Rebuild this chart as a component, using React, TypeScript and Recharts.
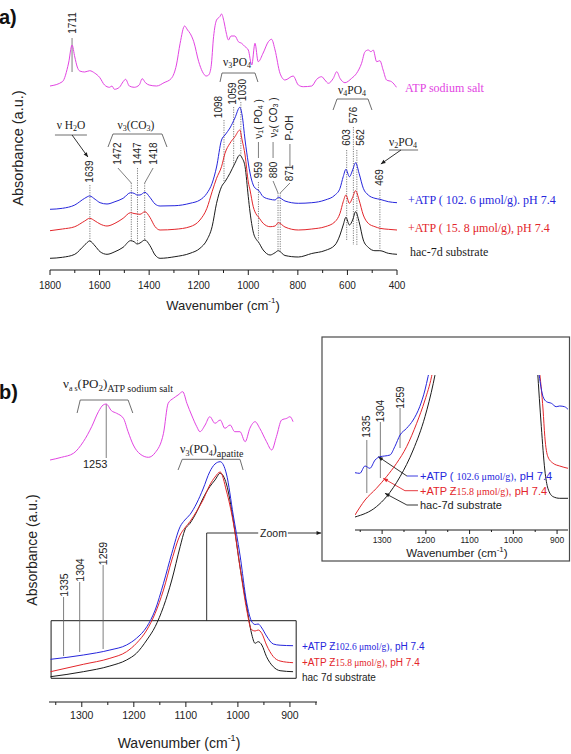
import React from "react";
import {
  LineChart,
  Line,
  XAxis,
  YAxis,
  ReferenceLine,
  ReferenceDot,
  ReferenceArea,
} from "recharts";

const SANS = "'Liberation Sans', Arial, Helvetica, sans-serif";
const SERIF = "'Liberation Serif', 'Times New Roman', Times, serif";

const BLUE = "#2626dc";
const RED = "#e3262b";
const BLACK = "#1c1c1c";
const MAGENTA = "#e244e2";
const GUIDE = "#5e5e5e";
const INK = "#222";

// (a) 1800-400 cm-1: substrate and both ATP loadings on one wavenumber grid
const wnA = [1800, 1750, 1700, 1660, 1640, 1618, 1598, 1570, 1538, 1505, 1475, 1461, 1448, 1437, 1417, 1397, 1376, 1356, 1296, 1235, 1195, 1167, 1146, 1128, 1108, 1094, 1074, 1054, 1034, 1025, 1013, 1000, 993, 980, 966, 960, 940, 912, 892, 879, 852, 798, 744, 690, 650, 630, 617, 606, 592, 579, 567, 553, 536, 516, 489, 469, 435, 400];
const blueA = [60.7, 61.7, 65, 71.7, 74, 70.7, 67.3, 66, 68.3, 71.7, 77.3, 76.7, 75, 75, 77.7, 72.7, 66, 64, 64.3, 66.7, 70, 76.7, 86.7, 103, 130, 135, 142, 152, 162.7, 155, 130, 107, 97, 85, 80.7, 80, 73.3, 70.7, 70, 72.7, 69, 66.7, 67.3, 70, 75, 81.7, 93.3, 100.7, 93.3, 100, 107.3, 96.7, 81.7, 75, 71.7, 70.7, 68.3, 67.3];
const redA = [39.3, 41, 43.3, 49, 51.7, 49, 46, 44, 46.7, 51.7, 57.3, 56.5, 56, 55.7, 58.3, 52.7, 43.3, 40, 40.7, 43.3, 50, 61.7, 78.3, 91.7, 103.3, 116.7, 126.7, 133.3, 140, 130, 115, 88, 80, 63.3, 55, 53.3, 46.7, 43.3, 44, 47.3, 43, 40, 41, 43.3, 48.3, 56.7, 68.3, 75, 66.7, 72.7, 79.3, 70, 55, 46.7, 43.3, 41.7, 40.7, 40];
const blackA = [11.7, 12.7, 15.7, 25, 29, 24, 18.3, 15.7, 18.3, 22.7, 29.3, 28.3, 26, 27, 30, 24.5, 15, 11.7, 13.3, 16.7, 21.7, 30, 43.3, 66.7, 83.3, 88.3, 96.7, 106.7, 115, 112, 103.3, 73.3, 58, 38, 30, 28.3, 20, 15, 17.3, 19.3, 14.5, 13, 16.5, 19.5, 25, 35, 45, 52.7, 45, 50, 58.3, 48.3, 30, 22.7, 19.3, 19.3, 16.7, 15.7];

// ATP sodium salt reference spectrum drawn above the others in (a)
const wnAtpA = [1800, 1750, 1725, 1711, 1700, 1690, 1680, 1660, 1640, 1620, 1600, 1580, 1560, 1550, 1540, 1520, 1505, 1495, 1480, 1460, 1440, 1428, 1415, 1400, 1370, 1340, 1310, 1290, 1275, 1257, 1245, 1235, 1220, 1200, 1185, 1170, 1160, 1150, 1140, 1128, 1115, 1108, 1098, 1090, 1080, 1070, 1054, 1040, 1027, 1013, 1000, 986, 973, 960, 940, 919, 906, 892, 872, 852, 819, 798, 778, 744, 724, 704, 691, 677, 657, 643, 630, 610, 583, 563, 543, 529, 516, 505, 496, 482, 469, 456, 442, 422, 402];
const atpA = [184, 188.3, 207, 225, 213, 203, 199, 198, 199.3, 197, 192.7, 185, 182.7, 184, 180.7, 182.7, 188.3, 190.7, 184, 182.7, 185, 191.3, 187.3, 185, 184, 187.3, 191.7, 205, 226.7, 244, 240, 236.7, 228.3, 208.3, 198.3, 194, 195, 203.3, 233.3, 250, 253.3, 256, 248.3, 238.3, 230, 234, 234, 228.3, 226.7, 223.3, 220, 205, 226.7, 208.3, 217, 228.3, 230.7, 220, 196.7, 190, 194, 185, 183.3, 184, 190.7, 193.3, 190, 186.7, 191.7, 198.3, 191.7, 187.3, 191.7, 196.7, 206.7, 218.3, 220, 218.3, 220, 208.3, 209.3, 200, 190, 188.3, 182.7];

const ticksA = [1800, 1600, 1400, 1200, 1000, 800, 600, 400];
const minorA = [1700, 1500, 1300, 1100, 900, 700, 500];

// (b) phosphate stretching region
const wnB = [1360, 1297, 1246, 1214, 1195, 1175, 1159, 1143, 1127, 1111, 1102, 1092, 1079, 1067, 1054, 1044, 1034, 1022, 1009, 996, 983, 974, 967, 961, 954, 945, 932, 919, 894];
const blueB = [42.7, 47, 52, 57, 63.7, 75.3, 92, 118.7, 148.7, 175.3, 182, 187.5, 199, 213, 230.3, 238, 240.3, 228, 187, 147, 99, 81, 77.5, 78, 74, 66, 58, 56.8, 56.3];
const redB = [30.3, 37.7, 43.7, 50.3, 58.7, 72, 88.7, 112, 142, 167, 174, 180.5, 191, 202, 217, 225, 230, 211, 180, 135, 92, 72.4, 71, 72, 68.5, 57, 45.4, 41, 39.3];
const blackB = [25.3, 30.3, 36, 42, 48.7, 62, 75.3, 95.3, 122, 155.3, 172, 178.7, 190.3, 203.7, 215.3, 222, 228.7, 218, 182, 135.3, 95.3, 69, 58.7, 60.3, 57, 45.3, 35.3, 31.3, 30.3];

const wnAtpB = [1361, 1339, 1316, 1297, 1281, 1268, 1259, 1253, 1243, 1233, 1220, 1211, 1201, 1188, 1172, 1159, 1143, 1134, 1124, 1115, 1106, 1098, 1089, 1079, 1073, 1063, 1054, 1044, 1034, 1025, 1015, 1006, 996, 986, 977, 967, 958, 945, 935, 926, 916, 906, 900, 894];
const atpB = [242, 244.7, 248.7, 260.3, 275.3, 290.3, 297, 298, 291.3, 288.7, 283.7, 270.3, 257, 248, 244.7, 249.3, 268.7, 298.7, 303.7, 307, 310.3, 298.7, 287, 275.3, 270.3, 277, 285.3, 278.7, 282, 273.7, 277, 270.3, 270.3, 260.3, 273.7, 280.3, 273.7, 260.3, 252, 265.3, 282, 283.7, 285.3, 280.3];

const ticksB = [1300, 1200, 1100, 1000, 900];
const minorB = [1350, 1250, 1150, 1050, 950, 850];

// inset: baseline of (b) re-plotted; null splits the part that runs off the frame
const inBlueWn = [1362, 1351, 1339, 1328, 1316, 1305, 1294, 1282, 1271, 1259, 1244, 1229, 1214, 1202, 1195, 1189, 1060, 944, 941, 932, 924, 913, 902, 894, 883, 875];
const inBlue = [57.3, 56.7, 64, 61.7, 70, 73.3, 74, 75, 83.3, 95, 101.7, 110, 123.3, 140, 153.3, 165, null, 165, 155, 133.3, 128.3, 126.7, 123.3, 124, 123.3, 120.7];
const inRedWn = [1362, 1339, 1313, 1290, 1267, 1244, 1221, 1202, 1187, 1183, 1060, 941, 932, 928, 921, 909, 894, 875];
const inRed = [15, 30, 41.7, 53.3, 66.7, 83.3, 106.7, 130, 153.3, 162, null, 162, 120, 93.3, 73.3, 66.7, 64, 61.7];
const inBlackWn = [1362, 1313, 1290, 1259, 1229, 1202, 1183, 1176, 1060, 945, 936, 928, 921, 909, 894, 875];
const inBlack = [13, 23.3, 33.3, 53.3, 80, 113.3, 146.7, 162, null, 162, 103.3, 60, 41.7, 33.3, 31.7, 31.7];

const ticksIn = [1300, 1200, 1100, 1000, 900];
const minorIn = [1350, 1250, 1150, 1050, 950];

const rows = (xs: number[], cols: Record<string, (number | null)[]>) =>
  xs.map((x, i) => {
    const r: any = { x };
    for (const k in cols) r[k] = cols[k][i];
    return r;
  });

const dataA = rows(wnA, { blue: blueA, red: redA, black: blackA });
const atpDataA = rows(wnAtpA, { v: atpA });
const dataB = rows(wnB, { blue: blueB, red: redB, black: blackB });
const atpDataB = rows(wnAtpB, { v: atpB });
const inBlueData = rows(inBlueWn, { v: inBlue });
const inRedData = rows(inRedWn, { v: inRed });
const inBlackData = rows(inBlackWn, { v: inBlack });

// label placement for the assigned bands (chart units: wavenumber / absorbance)
type Peak = { wn: number; ty: number; top: number; bottom: number; tx?: number; kink?: number; dx?: number; solid?: boolean };

const peakLayoutA: Peak[] = [
  { wn: 1711, ty: 247, top: 232, bottom: 198, solid: true },
  { wn: 1639, ty: 98.5, top: 85, bottom: 29 },
  { wn: 1472, tx: 1526, ty: 116.5, top: 102, kink: 87, bottom: 29 },
  { wn: 1447, ty: 116.5, top: 102, bottom: 26 },
  { wn: 1418, tx: 1384, ty: 116.5, top: 102, kink: 87, bottom: 30 },
  { wn: 1098, ty: 163, dx: -5, top: 150, bottom: 88 },
  { wn: 1059, ty: 176.5, dx: -1.5, top: 163, bottom: 105 },
  { wn: 1030, ty: 180, dx: 2, top: 168, bottom: 115 },
  { wn: 959, ty: 100, top: 88, bottom: 30 },
  { wn: 880, tx: 900, ty: 100, top: 89, kink: 77, bottom: 19 },
  { wn: 871, tx: 832, ty: 97, top: 87, kink: 77, bottom: 19 },
  { wn: 603, ty: 132.5, top: 120, bottom: 30 },
  { wn: 576, ty: 155, top: 143, bottom: 25 },
  { wn: 562, ty: 132.5, dx: 4, top: 120, bottom: 25 },
  { wn: 469, ty: 92.5, top: 80, bottom: 20 },
];

const peakLayoutB: Peak[] = [
  { wn: 1335, ty: 117, top: 105, bottom: 46, solid: true },
  { wn: 1304, ty: 132, top: 120, bottom: 50, solid: true },
  { wn: 1259, ty: 148.5, top: 137, bottom: 53, solid: true },
];

const peakLayoutIn: Peak[] = [
  { wn: 1335, ty: 103.5, top: 90, bottom: 37, solid: true },
  { wn: 1304, ty: 119, top: 108, bottom: 52, solid: true },
  { wn: 1259, ty: 132.5, top: 122, bottom: 82, solid: true },
];

const vText = (content: React.ReactNode, size: number, dx = 0) => (s: any) => {
  const x = s.cx + dx;
  return (
    <text
      x={x}
      y={s.cy}
      transform={`rotate(-90 ${x} ${s.cy})`}
      textAnchor="middle"
      dominantBaseline="central"
      fontFamily={SANS}
      fontSize={size}
      fill={INK}
      style={{ whiteSpace: "pre" }}
    >
      {content}
    </text>
  );
};

function peakMarks(list: Peak[], size: number, id: string) {
  const out: React.ReactElement[] = [];
  list.forEach((p, i) => {
    const tx = p.tx ?? p.wn;
    out.push(
      <ReferenceDot key={`${id}t${i}`} x={tx} y={p.ty} r={0} ifOverflow="visible" shape={vText(String(p.wn), size, p.dx)} />
    );
    let from = p.top;
    if (p.kink !== undefined) {
      out.push(
        <ReferenceLine key={`${id}k${i}`} segment={[{ x: tx, y: p.top }, { x: p.wn, y: p.kink }]} stroke={GUIDE} strokeWidth={0.8} ifOverflow="visible" />
      );
      from = p.kink;
    }
    out.push(
      <ReferenceLine
        key={`${id}l${i}`}
        segment={[{ x: p.wn, y: from }, { x: p.wn, y: p.bottom }]}
        stroke={GUIDE}
        strokeWidth={0.8}
        strokeDasharray={p.solid ? undefined : "1.2 1.2"}
        ifOverflow="visible"
      />
    );
  });
  return out;
}

function polyline(pts: [number, number][], color: string, id: string, width = 0.9) {
  return pts.slice(1).map((pt, i) => (
    <ReferenceLine
      key={`${id}${i}`}
      segment={[{ x: pts[i][0], y: pts[i][1] }, { x: pt[0], y: pt[1] }]}
      stroke={color}
      strokeWidth={width}
      ifOverflow="visible"
    />
  ));
}

const arrowShape = (color: string, head = 5) => (p: any) => {
  const { x1, y1, x2, y2 } = p;
  const a = Math.atan2(y2 - y1, x2 - x1);
  const wing = (s: number) => `${x2 - head * Math.cos(a + s)},${y2 - head * Math.sin(a + s)}`;
  return (
    <g>
      <line x1={x1} y1={y1} x2={x2} y2={y2} stroke={color} strokeWidth={0.9} />
      <polygon points={`${x2},${y2} ${wing(0.4)} ${wing(-0.4)}`} fill={color} />
    </g>
  );
};

function arrow(from: [number, number], to: [number, number], color: string, key: string) {
  return (
    <ReferenceLine
      key={key}
      segment={[{ x: from[0], y: from[1] }, { x: to[0], y: to[1] }]}
      ifOverflow="visible"
      shape={arrowShape(color)}
    />
  );
}

const axisTick = (major: number[], labelDy: number, fontSize: number, majorLen = 5, minorLen = 3) => (props: any) => {
  const { x, y, payload } = props;
  const isMajor = major.includes(payload.value);
  return (
    <g>
      <line x1={x} x2={x} y1={y} y2={y + (isMajor ? majorLen : minorLen)} stroke={BLACK} strokeWidth={1} />
      {isMajor && (
        <text x={x} y={y + labelDy} textAnchor="middle" dominantBaseline="central" fontFamily={SANS} fontSize={fontSize} fill={INK}>
          {payload.value}
        </text>
      )}
    </g>
  );
};

function waveAxis(domain: [number, number], major: number[], minor: number[], labelDy: number, fontSize: number, tickLen?: [number, number]) {
  const all = [...major, ...minor].sort((a, b) => b - a);
  return (
    <XAxis
      type="number"
      dataKey="x"
      domain={domain}
      reversed
      allowDataOverflow
      ticks={all}
      interval={0}
      tickLine={false}
      tickSize={0}
      tickMargin={0}
      height={30}
      axisLine={{ stroke: BLACK, strokeWidth: 1 }}
      tick={axisTick(major, labelDy, fontSize, tickLen?.[0], tickLen?.[1])}
    />
  );
}

const lineProps = { type: "monotone" as const, dot: false, strokeWidth: 1, isAnimationActive: false, activeDot: false };

function PanelA() {
  return (
    <LineChart width={571} height={320} data={dataA} margin={{ top: 10, right: 174, bottom: 20, left: 50 }}>
      {waveAxis([400, 1800], ticksA, minorA, 15, 10)}
      <YAxis hide type="number" domain={[0, 260]} allowDataOverflow />
      {peakMarks(peakLayoutA, 10, "pa")}
      {/* band groups written as rotated labels with a short dash */}
      <ReferenceDot x={959} y={151} r={0} ifOverflow="visible" shape={vText(<>ν<tspan dy={2} fontSize={7}>1</tspan><tspan dy={-2}>( PO</tspan><tspan dy={2} fontSize={7}>4</tspan><tspan dy={-2}> )</tspan></>, 10)} />
      <ReferenceDot x={900} y={152.5} r={0} ifOverflow="visible" shape={vText(<>ν<tspan dy={2} fontSize={7}>2</tspan><tspan dy={-2}>( CO</tspan><tspan dy={2} fontSize={7}>3</tspan><tspan dy={-2}> )</tspan></>, 10)} />
      <ReferenceDot x={832} y={142} r={0} ifOverflow="visible" shape={vText("P-OH", 10)} />
      {polyline([[959, 128], [959, 112]], GUIDE, "d1", 0.8)}
      {polyline([[900, 128], [900, 112]], GUIDE, "d2", 0.8)}
      {polyline([[832, 126], [832, 104]], GUIDE, "d3", 0.8)}
      {/* brackets */}
      {polyline([[1566, 123], [1546, 136], [1348, 136], [1328, 123]], GUIDE, "bco3")}
      {polyline([[1114, 188], [1106, 197], [973, 197], [961, 188]], GUIDE, "bpo3")}
      {polyline([[658, 160], [642, 171], [517, 171], [501, 160]], GUIDE, "bpo4")}
      {polyline([[1780, 135], [1651, 135]], GUIDE, "bh2o")}
      {polyline([[432, 120], [315, 120]], GUIDE, "bpo2")}
      {arrow([1711, 135], [1647, 113], BLACK, "ah2o")}
      {arrow([384, 120], [465, 106], BLACK, "apo2")}
      <Line data={atpDataA} dataKey="v" stroke={MAGENTA} {...lineProps} />
      <Line dataKey="black" stroke={BLACK} {...lineProps} />
      <Line dataKey="red" stroke={RED} {...lineProps} />
      <Line dataKey="blue" stroke={BLUE} {...lineProps} />
    </LineChart>
  );
}

function PanelB() {
  return (
    <LineChart width={571} height={384} data={dataB} margin={{ top: 10, right: 254, bottom: 22, left: 49 }}>
      {waveAxis([848, 1363], ticksB, minorB, 13, 10.5)}
      <YAxis hide type="number" domain={[0, 322]} allowDataOverflow />
      {peakMarks(peakLayoutB, 10.5, "pb")}
      <ReferenceLine segment={[{ x: 1253, y: 298 }, { x: 1253, y: 244 }]} stroke={GUIDE} strokeWidth={0.8} ifOverflow="visible" />
      <ReferenceDot
        x={1253}
        y={238}
        r={0}
        ifOverflow="visible"
        shape={(s: any) => (
          <text x={s.cx - 11} y={s.cy} textAnchor="middle" dominantBaseline="central" fontFamily={SANS} fontSize={11} fill={INK}>
            1253
          </text>
        )}
      />
      {polyline([[1309, 289], [1303, 302], [1211, 302], [1202, 289]], GUIDE, "bas")}
      {polyline([[1115, 232], [1107, 242.7], [996, 242.7], [990, 232]], GUIDE, "bap")}
      <ReferenceArea x1={1359} x2={888} y1={23.7} y2={81.3} fill="none" stroke={BLACK} strokeWidth={1} ifOverflow="visible" />
      {polyline([[1060, 81.3], [1060, 169], [961, 169]], BLACK, "zc")}
      {arrow([904, 169], [840, 169], BLACK, "zarr")}
      <Line data={atpDataB} dataKey="v" stroke={MAGENTA} {...lineProps} />
      <Line dataKey="black" stroke={BLACK} {...lineProps} />
      <Line dataKey="red" stroke={RED} {...lineProps} />
      <Line dataKey="blue" stroke={BLUE} {...lineProps} />
    </LineChart>
  );
}

function Inset() {
  return (
    <LineChart width={248} height={224} margin={{ top: 38, right: 2, bottom: 1, left: 33 }}>
      {waveAxis([875, 1362], ticksIn, minorIn, 10, 8.5, [4, 2])}
      <YAxis hide type="number" domain={[0, 155]} allowDataOverflow />
      {peakMarks(peakLayoutIn, 10, "pi")}
      {polyline([[1243.3, 54], [1218, 54]], BLUE, "lb")}
      {polyline([[1247.8, 39.3], [1218, 39.3]], RED, "lr")}
      {polyline([[1243.3, 25], [1218, 25]], BLACK, "lk")}
      {arrow([1243.3, 54], [1308.8, 73.3], BLACK, "ab")}
      {arrow([1247.8, 39.3], [1297.4, 51.7], RED, "ar")}
      {arrow([1243.3, 25], [1293.5, 36.7], BLACK, "ak")}
      <Line data={inBlackData} dataKey="v" stroke={BLACK} connectNulls={false} {...lineProps} />
      <Line data={inRedData} dataKey="v" stroke={RED} connectNulls={false} {...lineProps} />
      <Line data={inBlueData} dataKey="v" stroke={BLUE} connectNulls={false} {...lineProps} />
    </LineChart>
  );
}

const subS = { fontSize: 8 };

function Overlay() {
  return (
    <svg width={571} height={754} style={{ position: "absolute", left: 0, top: 0, pointerEvents: "none" }}>
      {/* (a) */}
      <text x={-1} y={24} fontFamily={SANS} fontWeight="bold" fontSize={20} fill="#111">a)</text>
      <text transform="translate(18,148) rotate(-90)" textAnchor="middle" dominantBaseline="central" fontFamily={SANS} fontSize={14.5} fill={INK}>
        Absorbance (a.u.)
      </text>
      <text x={223} y={305} textAnchor="middle" dominantBaseline="central" fontFamily={SANS} fontSize={13} fill={INK}>
        Wavenumber (cm<tspan dy={-5} fontSize={8}>-1</tspan><tspan dy={5}>)</tspan>
      </text>
      <g fontFamily={SERIF} fontSize={11.5} fill={INK} textAnchor="middle" dominantBaseline="central">
        <text x={71} y={125}>ν H<tspan dy={3} {...subS}>2</tspan><tspan dy={-3}>O</tspan></text>
        <text x={136} y={125}>ν<tspan dy={3} {...subS}>3</tspan><tspan dy={-3}>(CO</tspan><tspan dy={3} {...subS}>3</tspan><tspan dy={-3}>)</tspan></text>
        <text x={237} y={62}>ν<tspan dy={3} {...subS}>3</tspan><tspan dy={-3}>PO</tspan><tspan dy={3} {...subS}>4</tspan></text>
        <text x={352} y={90}>ν<tspan dy={3} {...subS}>4</tspan><tspan dy={-3}>PO</tspan><tspan dy={3} {...subS}>4</tspan></text>
        <text x={403} y={142}>ν<tspan dy={3} {...subS}>2</tspan><tspan dy={-3}>PO</tspan><tspan dy={3} {...subS}>4</tspan></text>
      </g>
      <g fontFamily={SERIF} fontSize={12} dominantBaseline="central" style={{ whiteSpace: "pre" }}>
        <text x={405} y={88} fill={MAGENTA}>ATP sodium salt</text>
        <text x={408} y={200} fill={BLUE}>+ATP ( 102. 6 μmol/g). pH 7.4</text>
        <text x={408} y={228.3} fill={RED}>+ATP  ( 15. 8 μmol/g), pH 7.4</text>
        <text x={410} y={251.7} fill={BLACK}>hac-7d substrate</text>
      </g>

      {/* (b) */}
      <text x={-1} y={399} fontFamily={SANS} fontWeight="bold" fontSize={20} fill="#111">b)</text>
      <text transform="translate(32,550) rotate(-90)" textAnchor="middle" dominantBaseline="central" fontFamily={SANS} fontSize={14} fill={INK}>
        Absorbance (a.u.)
      </text>
      <text x={179} y={743} textAnchor="middle" dominantBaseline="central" fontFamily={SANS} fontSize={14} fill={INK}>
        Wavenumber (cm<tspan dy={-5} fontSize={9}>-1</tspan><tspan dy={5}>)</tspan>
      </text>
      <text x={63} y={388} fontFamily={SERIF} fontSize={13} fill={INK} style={{ whiteSpace: "pre" }}>
        ν<tspan dy={3} fontSize={8}>a s</tspan><tspan dy={-3}>(PO</tspan><tspan dy={3} fontSize={9}>2</tspan><tspan dy={-3}>)</tspan><tspan dy={4} fontSize={10}>ATP sodium salt</tspan>
      </text>
      <text x={180} y={453} fontFamily={SERIF} fontSize={12} fill={INK}>
        ν<tspan dy={3} fontSize={8}>3</tspan><tspan dy={-3}>(PO</tspan><tspan dy={3} fontSize={8}>4</tspan><tspan dy={-3}>)</tspan><tspan dy={4} fontSize={10}>apatite</tspan>
      </text>
      <text x={273.5} y={533} textAnchor="middle" dominantBaseline="central" fontFamily={SANS} fontSize={10.5} fill={INK}>Zoom</text>
      <g fontFamily={SANS} fontSize={10} dominantBaseline="central" style={{ whiteSpace: "pre" }}>
        <text x={302} y={646.7} fill={BLUE}>+ATP Ƶ<tspan fontFamily={SERIF} fontSize={9.5}>102.6 μmol/g)</tspan>, pH 7.4</text>
        <text x={302} y={662.7} fill={RED}>+ATP Ƶ<tspan fontFamily={SERIF} fontSize={9.5}>15.8 μmol/g)</tspan>, pH 7.4</text>
        <text x={302} y={677} fill={BLACK}>hac 7d substrate</text>
      </g>

      {/* inset frame and texts */}
      <rect x={322} y={337} width={247.5} height={224} fill="none" stroke="#4a4a4a" strokeWidth={1.2} />
      <g fontFamily={SANS} fontSize={11} dominantBaseline="central" style={{ whiteSpace: "pre" }}>
        <text x={420} y={475.7} fill={BLUE}>+ATP ( <tspan fontFamily={SERIF} fontSize={10}>102.6 μmol/g)</tspan>, pH 7.4</text>
        <text x={420} y={490.7} fill={RED}>+ATP Ƶ<tspan fontFamily={SERIF} fontSize={10}>15.8 μmol/g)</tspan>, pH 7.4</text>
        <text x={420} y={505} fill={BLACK}>hac-7d substrate</text>
      </g>
      <text x={457} y={553} textAnchor="middle" dominantBaseline="central" fontFamily={SANS} fontSize={11.5} fill={INK}>
        Wavenumber (cm<tspan dy={-4} fontSize={8}>-1</tspan><tspan dy={4}>)</tspan>
      </text>
    </svg>
  );
}

export default function App() {
  return (
    <div style={{ position: "absolute", left: 0, top: 0, width: 571, height: 754, background: "#fff", overflow: "hidden" }}>
      <div style={{ position: "absolute", left: 0, top: 0 }}>
        <PanelA />
      </div>
      <div style={{ position: "absolute", left: 0, top: 370 }}>
        <PanelB />
      </div>
      <div style={{ position: "absolute", left: 322, top: 337 }}>
        <Inset />
      </div>
      <Overlay />
    </div>
  );
}
